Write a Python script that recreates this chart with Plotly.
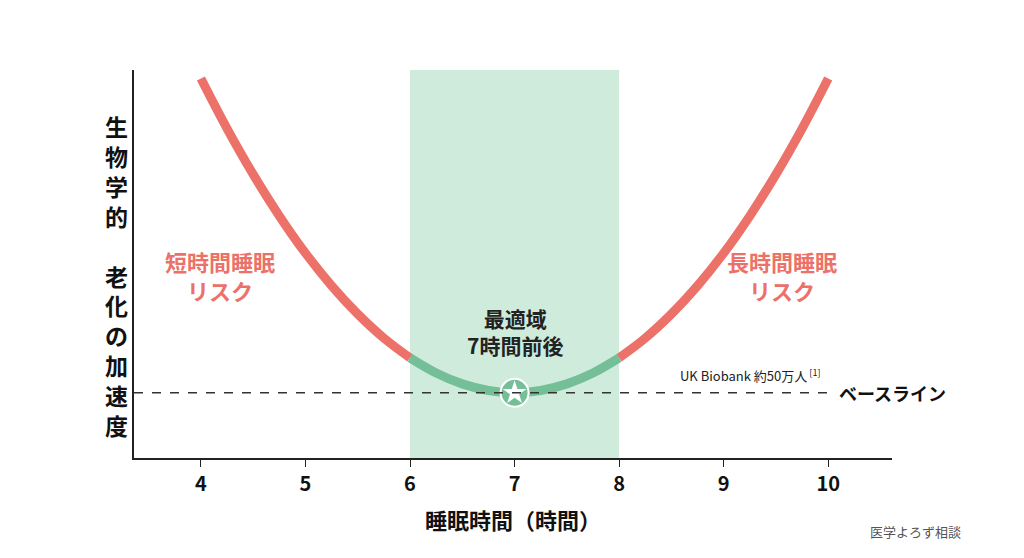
import plotly.graph_objects as go

left_x = [4, 4.25, 4.5, 4.75, 5, 5.25, 5.5, 5.75, 6]
left_y = [9.78, 8.49, 7.31, 6.24, 5.28, 4.44, 3.71, 3.09, 2.58]
mid_x = [6, 6.25, 6.5, 6.75, 7, 7.25, 7.5, 7.75, 8]
mid_y = [2.58, 2.19, 1.91, 1.74, 1.68, 1.74, 1.91, 2.19, 2.58]
right_x = [8, 8.25, 8.5, 8.75, 9, 9.25, 9.5, 9.75, 10]
right_y = [2.58, 3.09, 3.71, 4.44, 5.28, 6.24, 7.31, 8.49, 9.78]
baseline = 1.68
optimum_x = 7
zone = [6, 8]
tick_vals = [4, 5, 6, 7, 8, 9, 10]

F = "Noto Sans CJK JP"
RED = "#EC7169"
GREEN = "#74BE98"

fig = go.Figure()
fig.add_shape(type="rect", x0=zone[0], x1=zone[1], y0=0, y1=10, xref="x", yref="y",
              fillcolor="#CFEBDB", line_width=0, layer="below")
fig.add_shape(type="line", x0=3.36, x1=10.05, y0=baseline, y1=baseline,
              line=dict(color="#333", width=1.5, dash="dash"))
fig.add_trace(go.Scatter(x=left_x, y=left_y, mode="lines", line=dict(color=RED, width=9, shape="spline")))
fig.add_trace(go.Scatter(x=right_x, y=right_y, mode="lines", line=dict(color=RED, width=9, shape="spline")))
fig.add_trace(go.Scatter(x=mid_x, y=mid_y, mode="lines", line=dict(color=GREEN, width=9, shape="spline")))
fig.add_trace(go.Scatter(x=[optimum_x], y=[baseline], mode="markers",
                         marker=dict(symbol="circle", size=28, color=GREEN, line=dict(color="white", width=2))))
fig.add_trace(go.Scatter(x=[optimum_x], y=[baseline], mode="markers",
                         marker=dict(symbol="star", size=18, color="white", line_width=0)))

for x, y, t, c, s in [(4.18, 4.7, "短時間睡眠<br>リスク", RED, 22),
                      (9.56, 4.7, "長時間睡眠<br>リスク", RED, 22),
                      (7, 3.25, "最適域<br>7時間前後", "#222", 21)]:
    fig.add_annotation(x=x, y=y, text="<b>" + t + "</b>", showarrow=False, xref="x", yref="y",
                       font=dict(color=c, size=s, family=F))
fig.add_annotation(x=9.95, y=baseline + 0.45, text="UK Biobank 約50万人<sup> [1]</sup>", showarrow=False,
                   xanchor="right", font=dict(size=13, color="#222", family=F))
fig.add_annotation(x=10.08, y=baseline, text="<b>ベースライン</b>", showarrow=False, xanchor="left",
                   font=dict(size=18, color="#111", family=F))
fig.add_annotation(x=(95 - 126) / 758, y=0.47, xref="paper", yref="paper", showarrow=False,
                   text="<b>" + "<br>".join("生物学的") + "<br> <br>" + "<br>".join("老化の加速度") + "</b>",
                   font=dict(size=23, color="#111", family=F), align="center")
fig.add_annotation(x=(955 - 126) / 758, y=-(535 - 450) / 388, xref="paper", yref="paper",
                   text="医学よろず相談", showarrow=False, font=dict(size=13, color="#555", family=F))

fig.update_layout(
    width=1024, height=558, margin=dict(l=126, r=140, t=62, b=108),
    paper_bgcolor="white", plot_bgcolor="white", showlegend=False,
    font=dict(family=F),
    xaxis=dict(range=[3.36, 10.61], tickvals=tick_vals, showgrid=False, zeroline=False,
               showline=True, linecolor="#222", linewidth=2, ticks="outside", ticklen=7,
               tickcolor="#222", tickfont=dict(size=20, color="#111", family=F, weight="bold"),
               title=dict(text="<b>睡眠時間（時間）</b>", font=dict(size=22, color="#111", family=F), standoff=18)),
    yaxis=dict(range=[0, 10], showgrid=False, zeroline=False, showticklabels=False,
               showline=True, linecolor="#222", linewidth=2),
)
fig.write_html("out.html")
